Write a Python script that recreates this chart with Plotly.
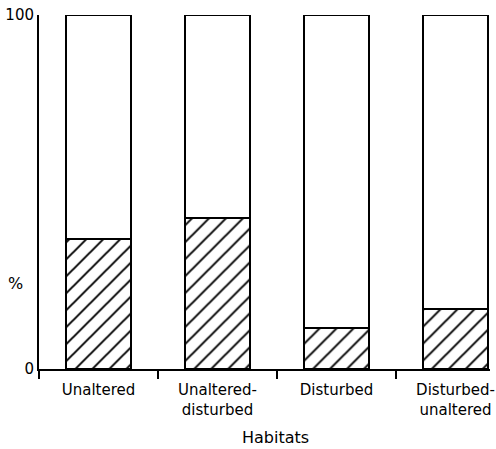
import plotly.graph_objects as go

categories = ["Unaltered", "Unaltered-<br>disturbed", "Disturbed", "Disturbed-<br>unaltered"]
hatched_pct = [36.6, 42.7, 11.7, 16.9]
open_pct = [100 - v for v in hatched_pct]
y_ticks = [0, 100]
y_tick_labels = ["0", "100"]

font_family = "DejaVu Sans"

fig_w, fig_h = 496, 449
m_l, m_r, m_t, m_b = 39, 6, 15, 80
plot_w = fig_w - m_l - m_r
plot_h = fig_h - m_t - m_b

fig = go.Figure()
fig.add_trace(go.Bar(
    x=categories, y=hatched_pct, width=0.55,
    marker=dict(color="white", line=dict(color="black", width=2),
                pattern=dict(shape="/", fgcolor="black", bgcolor="white", fgopacity=1,
                             size=12, solidity=0.16)),
    showlegend=False, hoverinfo="skip",
))
fig.add_trace(go.Bar(
    x=categories, y=open_pct, width=0.55,
    marker=dict(color="white", line=dict(color="black", width=2)),
    showlegend=False, hoverinfo="skip",
))

fig.update_layout(
    barmode="stack",
    width=fig_w, height=fig_h,
    margin=dict(l=m_l, r=m_r, t=m_t, b=m_b, autoexpand=False),
    paper_bgcolor="white", plot_bgcolor="white",
    font=dict(family=font_family, size=15, color="black"),
    xaxis=dict(
        type="category", range=[-0.5, 3.29],
        showline=True, linecolor="black", linewidth=2,
        ticks="outside", tickson="boundaries", ticklen=8, tickwidth=1.5, tickcolor="black",
        showgrid=False, zeroline=False, automargin=False,
        tickfont=dict(size=15), ticklabeloverflow="allow", ticklabelstandoff=6,
    ),
    yaxis=dict(
        range=[0, 100], tickvals=y_ticks, ticktext=y_tick_labels,
        showline=True, linecolor="black", linewidth=2,
        ticks="inside", ticklen=6, tickwidth=1.5, tickcolor="black",
        showgrid=False, zeroline=False, automargin=False,
        tickfont=dict(size=15), ticklabeloverflow="allow",
    ),
    annotations=[
        dict(text="%", x=(15 - 39) / plot_w, y=(369 - 283) / plot_h,
             xref="paper", yref="paper", showarrow=False,
             xanchor="center", yanchor="middle", font=dict(size=16)),
        dict(text="Habitats", x=(275 - 39) / plot_w, y=(369 - 437) / plot_h,
             xref="paper", yref="paper", showarrow=False,
             xanchor="center", yanchor="middle", font=dict(size=16)),
    ],
)

fig.write_html(
    "out.html",
    config={"displayModeBar": False},
    post_script="document.body.style.margin='0';document.body.style.overflow='hidden';",
)
